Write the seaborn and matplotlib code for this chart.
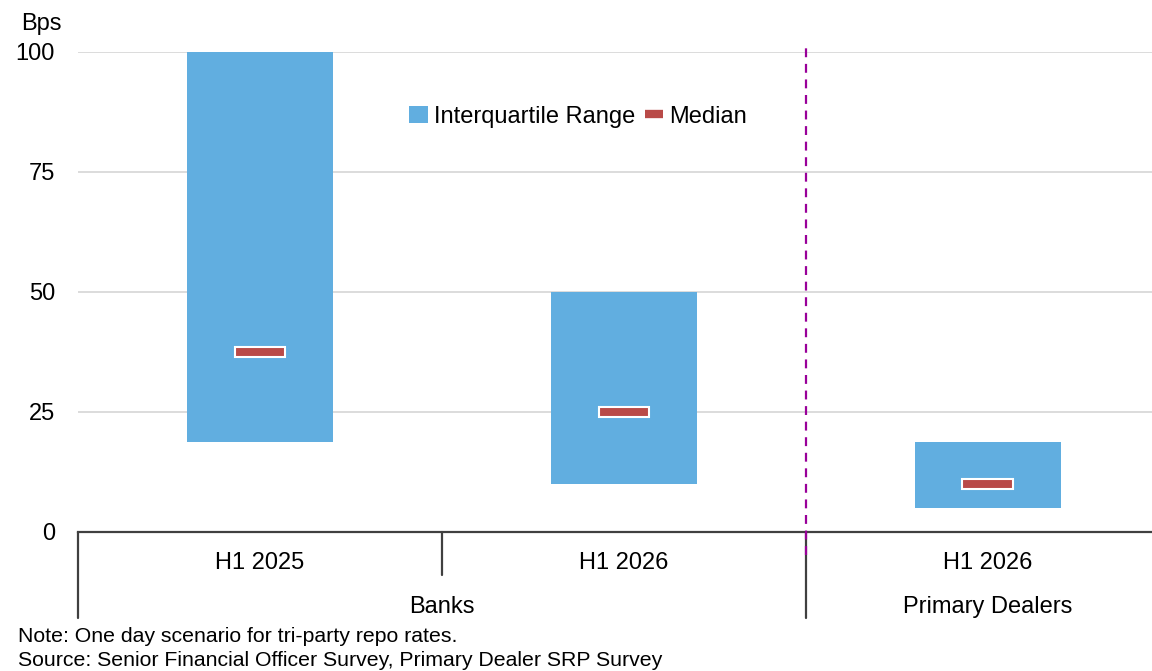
import numpy as np
import pandas as pd
from matplotlib import pyplot as plt
from matplotlib.patches import Patch
from matplotlib.lines import Line2D
import seaborn as sns

groups = ["Banks", "Banks", "Primary Dealers"]
periods = ["H1 2025", "H1 2026", "H1 2026"]
q1 = [18.75, 10, 5]
q3 = [100, 50, 18.75]
median = [37.5, 25, 10]

blue = "#61AEE0"
red = "#B94A48"

sns.set_style("white")
plt.rcParams['font.family'] = ['Liberation Sans', 'DejaVu Sans']
plt.rcParams['text.color'] = "black"
plt.rcParams['ytick.color'] = "black"

df = pd.DataFrame({"group": groups, "period": periods, "q1": q1, "q3": q3, "median": median})
df["key"] = df["group"] + " " + df["period"]
df["iqr"] = df["q3"] - df["q1"]
df["med_lo"] = df["median"] - 1.0
df["med_h"] = 2.0

fig = plt.figure(figsize=(11.52, 6.71), dpi=100)
ax = fig.add_axes([0.0677, 0.2072, 0.9479, 0.7154])

sns.barplot(data=df, x="key", y="iqr", bottom=df["q1"].values, color=blue, width=0.40,
            saturation=1, linewidth=0, ax=ax, zorder=2)
sns.barplot(data=df, x="key", y="med_h", bottom=df["med_lo"].values, color=red, width=0.14,
            saturation=1, edgecolor="white", linewidth=1.5, ax=ax, zorder=3)

ax.set_xlim(-0.5, 2.5)
ax.set_ylim(0, 100)
ax.set_yticks([0, 25, 50, 75, 100])
ax.yaxis.grid(True, color="#d9d9d9", lw=1.3, zorder=0)
ax.set_axisbelow(True)
ax.tick_params(axis="y", labelsize=17, length=0, pad=16.5, labelcolor="black")
ax.tick_params(axis="x", length=0, labelbottom=False)
ax.set_xlabel("")
ax.set_ylabel("")
for s in ["left", "top", "right"]:
    ax.spines[s].set_visible(False)
ax.spines["bottom"].set_color("#404040")
ax.spines["bottom"].set_linewidth(1.6)

# divider between banks and primary dealers
ax.plot([1.5, 1.5], [-0.048, 1.021], transform=ax.get_xaxis_transform(), color="#990099",
        lw=1.6, ls=(0, (4, 3)), clip_on=False, zorder=4)

# two-level category axis
tr = ax.get_xaxis_transform()
for i, p in enumerate(periods):
    ax.text(i, -0.064, p, transform=tr, ha="center", va="center", fontsize=17)
for x0, y0 in [(-0.5, -0.179), (0.5, -0.09), (1.5, -0.179), (2.5, -0.179)]:
    ax.plot([x0, x0], [0, y0], transform=tr, color="#404040", lw=1.6, clip_on=False)
ax.text(0.5, -0.157, "Banks", transform=tr, ha="center", va="center", fontsize=17)
ax.text(2.0, -0.157, "Primary Dealers", transform=tr, ha="center", va="center", fontsize=17)

handles = [Patch(facecolor=blue, edgecolor="none"),
           Line2D([0], [0], color=red, lw=6, solid_capstyle="butt")]
ax.legend(handles, ["Interquartile Range", "Median"], loc="center", bbox_to_anchor=(0.458, 0.865),
          ncol=2, frameon=False, fontsize=17, handlelength=0.8, handleheight=0.7,
          handletextpad=0.25, columnspacing=0.4)

fig.text(62 / 1152, 1 - 24 / 671, "Bps", ha="right", va="center", fontsize=17)
fig.text(18 / 1152, 1 - 636 / 671, "Note: One day scenario for tri-party repo rates.",
         ha="left", va="center", fontsize=15.3)
fig.text(18 / 1152, 1 - 660 / 671, "Source: Senior Financial Officer Survey, Primary Dealer SRP Survey",
         ha="left", va="center", fontsize=15.3)

fig.savefig("out.png", dpi=100)
